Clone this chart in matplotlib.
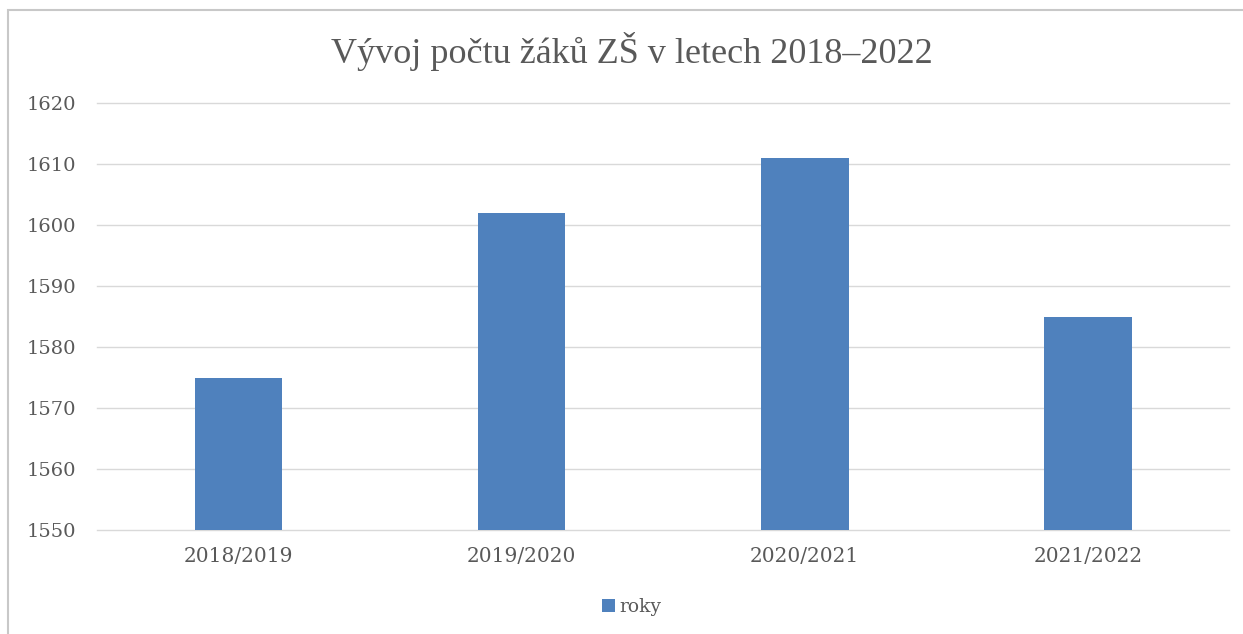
import matplotlib.pyplot as plt
from matplotlib.patches import Rectangle

categories = ['2018/2019', '2019/2020', '2020/2021', '2021/2022']
values = [1575, 1602, 1611, 1585]
series_name = 'roky'
title = 'Vývoj počtu žáků ZŠ v letech 2018–2022'

plt.rcParams['font.family'] = ['DejaVu Serif']

fig = plt.figure(figsize=(12.43, 6.34), dpi=100)
ax = fig.add_axes([0.078, 0.164, 0.911, 0.6735])

# chart frame (cut off at right/bottom like the screenshot)
fig.patches.append(Rectangle((8 / 1243, -0.1), 1.2, 1 - 10 / 634 + 0.1,
                             transform=fig.transFigure, fill=False,
                             edgecolor='#c8c8c8', linewidth=1.5))

x = range(len(categories))
ax.bar(x, values, width=0.31, color='#4F81BD', label=series_name, zorder=3)

ax.set_xlim(-0.5, len(categories) - 0.5)
ax.set_ylim(1550, 1620)
ax.set_yticks(range(1550, 1621, 10))
ax.set_xticks(list(x))
ax.set_xticklabels(categories)
ax.tick_params(axis='y', length=0, labelsize=14, colors='#595959', pad=15)
ax.tick_params(axis='x', length=0, labelsize=14.5, colors='#595959', pad=12)
ax.grid(axis='y', color='#d9d9d9', linewidth=1, zorder=0)
for line in ax.get_ygridlines():
    line.set_clip_on(False)
for s in ax.spines.values():
    s.set_visible(False)

fig.text(0.508, 0.918, title, ha='center', va='center', fontsize=26,
         color='#595959', family=['Liberation Serif'])

fig.legend(loc='center', bbox_to_anchor=(0.508, 0.042), frameon=False,
           fontsize=13.5, handlelength=0.7, handleheight=0.7,
           handletextpad=0.2, labelcolor='#595959')

fig.savefig('out.png', dpi=100, facecolor='white')
